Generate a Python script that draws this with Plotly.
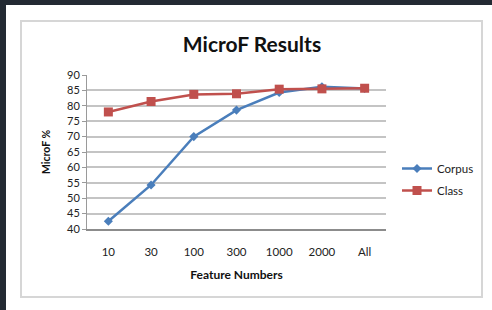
import plotly.graph_objects as go

categories = ["10", "30", "100", "300", "1000", "2000", "All"]
corpus = [42.5, 54.3, 70.0, 78.6, 84.3, 86.2, 85.6]
class_vals = [78.0, 81.4, 83.7, 83.9, 85.4, 85.5, 85.7]
y_ticks = list(range(40, 91, 5))

W, H = 492, 310
L, R, T, B = 87, 386, 75, 229  # plot area in px

def px(x):
    return (x - L) / (R - L)

def py(y):
    return (B - y) / (B - T)

fig = go.Figure()
fig.add_trace(go.Scatter(
    x=categories, y=corpus, name="Corpus", mode="lines+markers",
    line=dict(color="#4a7ebb", width=2.5),
    marker=dict(symbol="diamond", size=7, color="#4a7ebb"),
    legendgroup="a",
))
fig.add_trace(go.Scatter(
    x=categories, y=class_vals, name="Class", mode="lines+markers",
    line=dict(color="#c0504d", width=2.5),
    marker=dict(symbol="square", size=9, color="#c0504d"),
    legendgroup="b",
))

shapes = [
    # white page area
    dict(type="rect", xref="paper", yref="paper", layer="below",
         x0=px(6), x1=px(W + 5), y0=py(5), y1=py(H + 5),
         fillcolor="white", line=dict(width=0)),
    # chart border
    dict(type="rect", xref="paper", yref="paper", layer="below",
         x0=px(21), x1=px(482), y0=py(21), y1=py(297),
         fillcolor="rgba(0,0,0,0)", line=dict(color="#d6d6d6", width=2)),
]

fig.update_layout(
    width=W, height=H,
    margin=dict(l=L, r=W - R, t=T, b=H - B, autoexpand=False),
    paper_bgcolor="#232a33",
    plot_bgcolor="white",
    shapes=shapes,
    font=dict(family="Lato, Liberation Sans, sans-serif", color="#222", size=10),
    title=dict(text="<b>MicroF Results</b>", xref="container", x=252 / W, xanchor="center",
               y=1 - 45 / H, yanchor="middle",
               font=dict(size=21, color="#111", family="Lato, sans-serif")),
    xaxis=dict(
        type="category", range=[-0.5, 6.5],
        showgrid=False, showline=True, linecolor="#8c8c8c", linewidth=1.5,
        ticks="", tickfont=dict(size=11.5, color="#222"), ticklabelstandoff=11,
        title=dict(text="<b>Feature Numbers</b>", font=dict(size=12, color="#111"), standoff=14),
        fixedrange=True, automargin=False,
    ),
    yaxis=dict(
        range=[40, 90], tickvals=y_ticks,
        showgrid=True, gridcolor="#c4c4c4", gridwidth=1.5,
        showline=True, linecolor="#9a9a9a", linewidth=1,
        ticks="outside", ticklen=4, tickcolor="#9a9a9a",
        tickfont=dict(size=11, color="#222"),
        title=dict(text="<b>MicroF %</b>", font=dict(size=10.5, color="#111"), standoff=14),
        zeroline=False, fixedrange=True, automargin=False,
    ),
    legend=dict(x=px(397), xanchor="left", y=py(179.5), yanchor="middle",
                bgcolor="rgba(0,0,0,0)", font=dict(size=11.5, color="#222"),
                tracegroupgap=3, itemwidth=30),
    showlegend=True,
)

fig.write_html(
    "out.html",
    config={"displayModeBar": False},
    post_script="document.body.style.margin='0';document.body.style.overflow='hidden';",
)
